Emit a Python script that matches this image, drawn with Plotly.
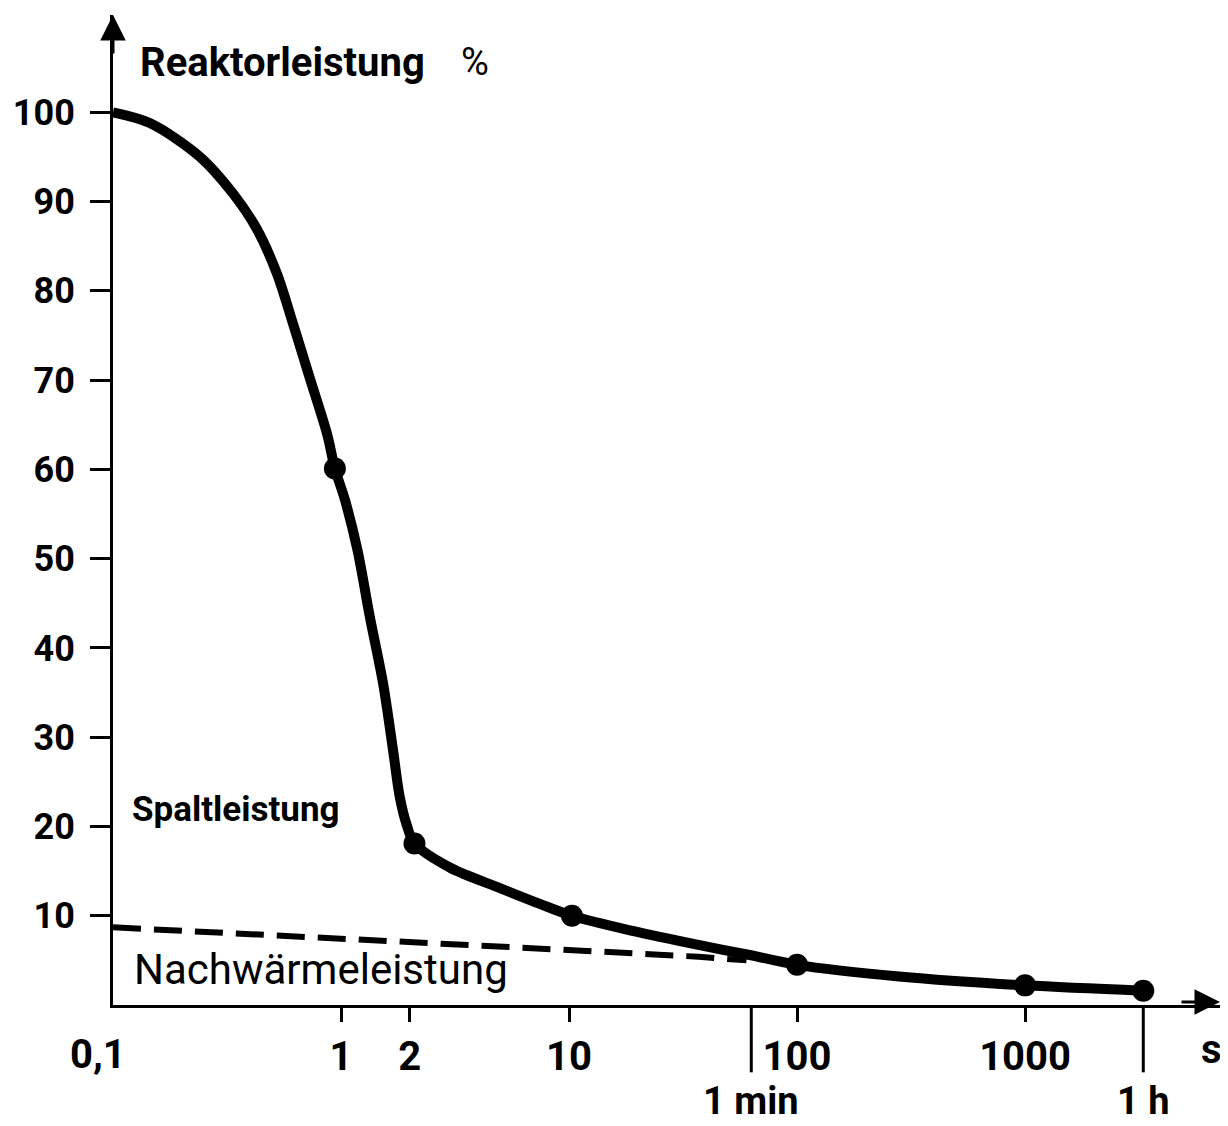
import plotly.graph_objects as go
import numpy as np

# Reaktorleistung (Spaltleistung) curve
t_curve = [0.1, 0.145, 0.241, 0.336, 0.428, 0.524, 0.616, 0.73, 0.87, 0.94,
           1.04, 1.18, 1.34, 1.53, 1.69, 1.81, 1.94, 2.1,
           3.0, 4.98, 7.5, 10.3, 19.0, 37.4, 62, 100, 280, 1000, 3300]
p_curve = [100, 98.8, 95.0, 90.9, 86.9, 81.9, 76.3, 70.2, 63.9, 60.1,
           56.6, 51.0, 43.4, 36.0, 28.6, 23.3, 20.2, 18.1,
           15.4, 13.1, 11.3, 10.0, 8.3, 6.7, 5.6, 4.5, 3.2, 2.2, 1.6]
# marked points
t_marks = [0.94, 2.1, 10.3, 100, 1000, 3300]
p_marks = [60.1, 18.1, 10.0, 4.5, 2.2, 1.6]
# Nachwärmeleistung (dashed)
t_decay = [0.1, 1, 1.82, 19, 37, 60]
p_decay = [8.7, 7.5, 7.05, 5.8, 5.4, 5.0]

x_tickvals = [1, 2, 10, 100, 1000]
x_ticktext = ["1", "2", "10", "100", "1000"]
origin_label = "0,1"
y_tickvals = [10, 20, 30, 40, 50, 60, 70, 80, 90, 100]
time_marks = [63, 3300]
time_labels = ["1 min", "1 h"]

FONT = "Roboto, Liberation Sans, sans-serif"

fig = go.Figure()
fig.add_trace(go.Scatter(x=t_decay, y=p_decay, mode="lines",
                         line=dict(color="black", width=6, dash="28px,13px"),
                         showlegend=False, hoverinfo="skip"))
fig.add_trace(go.Scatter(x=t_curve, y=p_curve, mode="lines",
                         line=dict(color="black", width=10, shape="spline", smoothing=0.9),
                         showlegend=False))
fig.add_trace(go.Scatter(x=t_marks, y=p_marks, mode="markers",
                         marker=dict(color="black", size=22),
                         showlegend=False))

fig.update_xaxes(type="log", range=[-1, 3.855], automargin=False,
                 tickvals=x_tickvals, ticktext=x_ticktext,
                 ticks="outside", ticklen=14, tickwidth=3, tickcolor="black",
                 showline=True, linecolor="black", linewidth=3,
                 showgrid=False, zeroline=False,
                 tickfont=dict(family=FONT, size=40, color="black", weight="bold"))
fig.update_yaxes(range=[0, 110.9], automargin=False,
                 tickvals=y_tickvals,
                 ticks="outside", ticklen=20, tickwidth=3, tickcolor="black",
                 ticklabelstandoff=8,
                 showline=True, linecolor="black", linewidth=3,
                 showgrid=False, zeroline=False,
                 tickfont=dict(family=FONT, size=36, color="black", weight="bold"))

# origin label
fig.add_annotation(x=-1, xref="x", yref="paper", y=-0.0505, xanchor="center", yanchor="middle",
                   xshift=-15, text=origin_label, showarrow=False,
                   font=dict(family=FONT, size=40, color="black", weight="bold"))

# long ticks for 1 min and 1 h
for tv, lab in zip(time_marks, time_labels):
    fig.add_shape(type="line", xref="x", yref="paper", x0=tv, x1=tv, y0=0, y1=-0.068,
                  line=dict(color="black", width=3))
    fig.add_annotation(x=np.log10(tv), xref="x", yref="paper", y=-0.097,
                       xanchor="center", yanchor="middle",
                       text=lab, showarrow=False,
                       font=dict(family=FONT, size=38, color="black", weight="bold"))

# arrowheads
fig.add_annotation(xref="paper", yref="paper", x=0, y=1, ax=0, ay=40,
                   showarrow=True, arrowhead=2, arrowsize=1.7, arrowwidth=3, arrowcolor="black", text="")
fig.add_annotation(xref="paper", yref="paper", x=1.0, y=0.003, ax=-40, ay=0,
                   showarrow=True, arrowhead=2, arrowsize=1.7, arrowwidth=3, arrowcolor="black", text="")

fig.add_annotation(xref="paper", yref="paper", x=0.0226, y=0.9525, xanchor="left", yanchor="middle",
                   text="Reaktorleistung", showarrow=False,
                   font=dict(family=FONT, size=40, color="black", weight="bold"))
fig.add_annotation(xref="paper", yref="paper", x=0.327, y=0.9525, xanchor="center", yanchor="middle",
                   text="%", showarrow=False,
                   font=dict(family=FONT, size=38, color="black"))
fig.add_annotation(xref="paper", yref="paper", x=0.0154, y=0.197, xanchor="left", yanchor="middle",
                   text="Spaltleistung", showarrow=False,
                   font=dict(family=FONT, size=35, color="black", weight="bold"))
fig.add_annotation(xref="paper", yref="paper", x=0.017, y=0.0354, xanchor="left", yanchor="middle",
                   text="Nachwärmeleistung", showarrow=False,
                   font=dict(family=FONT, size=42, color="black"))
fig.add_annotation(xref="paper", yref="paper", x=1.004, y=-0.045, xanchor="right", yanchor="middle",
                   text="s", showarrow=False,
                   font=dict(family=FONT, size=40, color="black", weight="bold"))

# page body adds an 8px offset, so the figure is 8px smaller on each side
fig.update_layout(width=1220, height=1118,
                  margin=dict(l=105, r=8, t=7, b=121),
                  paper_bgcolor="white", plot_bgcolor="white",
                  showlegend=False)

fig.write_html("out.html")
